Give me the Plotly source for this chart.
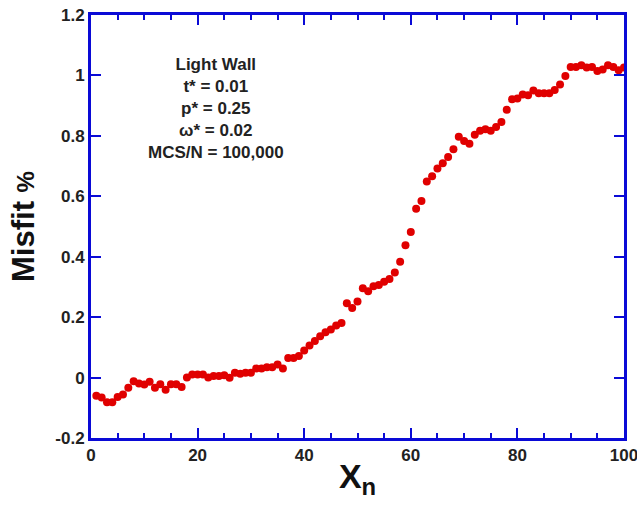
import plotly.graph_objects as go

x_n = list(range(1, 101))
misfit = [
    -0.060, -0.066, -0.082, -0.082, -0.064, -0.056, -0.034, -0.012, -0.020, -0.023,
    -0.014, -0.034, -0.022, -0.040, -0.022, -0.022, -0.031, 0.000, 0.010, 0.010,
    0.010, 0.000, 0.005, 0.005, 0.008, -0.001, 0.016, 0.013, 0.016, 0.016,
    0.030, 0.030, 0.034, 0.034, 0.043, 0.030, 0.065, 0.065, 0.071, 0.090,
    0.106, 0.121, 0.137, 0.150, 0.159, 0.172, 0.181, 0.246, 0.230, 0.252,
    0.296, 0.286, 0.302, 0.306, 0.317, 0.326, 0.348, 0.383, 0.438, 0.482,
    0.559, 0.584, 0.649, 0.666, 0.692, 0.709, 0.730, 0.756, 0.797, 0.783,
    0.774, 0.804, 0.817, 0.822, 0.817, 0.829, 0.846, 0.886, 0.921, 0.924,
    0.937, 0.934, 0.950, 0.941, 0.941, 0.941, 0.952, 0.970, 0.998, 1.028,
    1.028, 1.034, 1.026, 1.028, 1.015, 1.020, 1.034, 1.028, 1.017, 1.026,
]
x_ticks = [0, 20, 40, 60, 80, 100]
y_ticks = [-0.2, 0, 0.2, 0.4, 0.6, 0.8, 1, 1.2]
y_tick_text = ["-0.2", "0", "0.2", "0.4", "0.6", "0.8", "1", "1.2"]
info_lines = ["Light Wall", "t* = 0.01", "p* = 0.25", "\u03c9* = 0.02", "MCS/N = 100,000"]

BLUE = "#0a0ad6"
FONT = "Liberation Sans, Arial, sans-serif"

fig = go.Figure()
fig.add_trace(go.Scatter(
    x=x_n, y=misfit, mode="markers",
    marker=dict(color="#e00000", size=8, line=dict(width=0)),
    showlegend=False,
))

fig.update_layout(
    width=637, height=506,
    margin=dict(l=91, r=13, t=15, b=68),
    paper_bgcolor="white", plot_bgcolor="white",
    font=dict(family=FONT, color="#222222"),
    xaxis=dict(
        range=[0, 100], tickvals=x_ticks, ticktext=[str(v) for v in x_ticks],
        ticks="inside", ticklen=10, tickwidth=1.5, tickcolor=BLUE,
        minor=dict(dtick=5, ticks="inside", ticklen=5, tickwidth=1.5, tickcolor=BLUE, showgrid=False),
        showline=True, linecolor=BLUE, linewidth=3, mirror="ticks",
        showgrid=False, zeroline=False, automargin=False, ticklabeloverflow="allow",
        tickfont=dict(size=17, family=FONT, color="#222222", weight="bold"),
        title=dict(text="X<sub>n</sub>", font=dict(size=34, family=FONT, color="#111111", weight="bold"), standoff=0),
    ),
    yaxis=dict(
        range=[-0.2, 1.2], tickvals=y_ticks, ticktext=y_tick_text,
        ticks="inside", ticklen=10, tickwidth=1.5, tickcolor=BLUE,
        showline=True, linecolor=BLUE, linewidth=3, mirror="ticks",
        showgrid=False, zeroline=False, automargin=False, ticklabeloverflow="allow",
        tickfont=dict(size=17, family=FONT, color="#222222", weight="bold"),
        title=dict(text="Misfit <span style='font-size:24px'>%</span>",
                   font=dict(size=31, family=FONT, color="#111111", weight="bold"), standoff=12),
    ),
)

fig.add_annotation(
    x=23.4, y=0.89, xref="x", yref="y",
    text="<br>".join(info_lines), showarrow=False,
    font=dict(size=17, family=FONT, color="#222222", weight="bold"),
    align="center",
)

fig.write_html("out.html")
